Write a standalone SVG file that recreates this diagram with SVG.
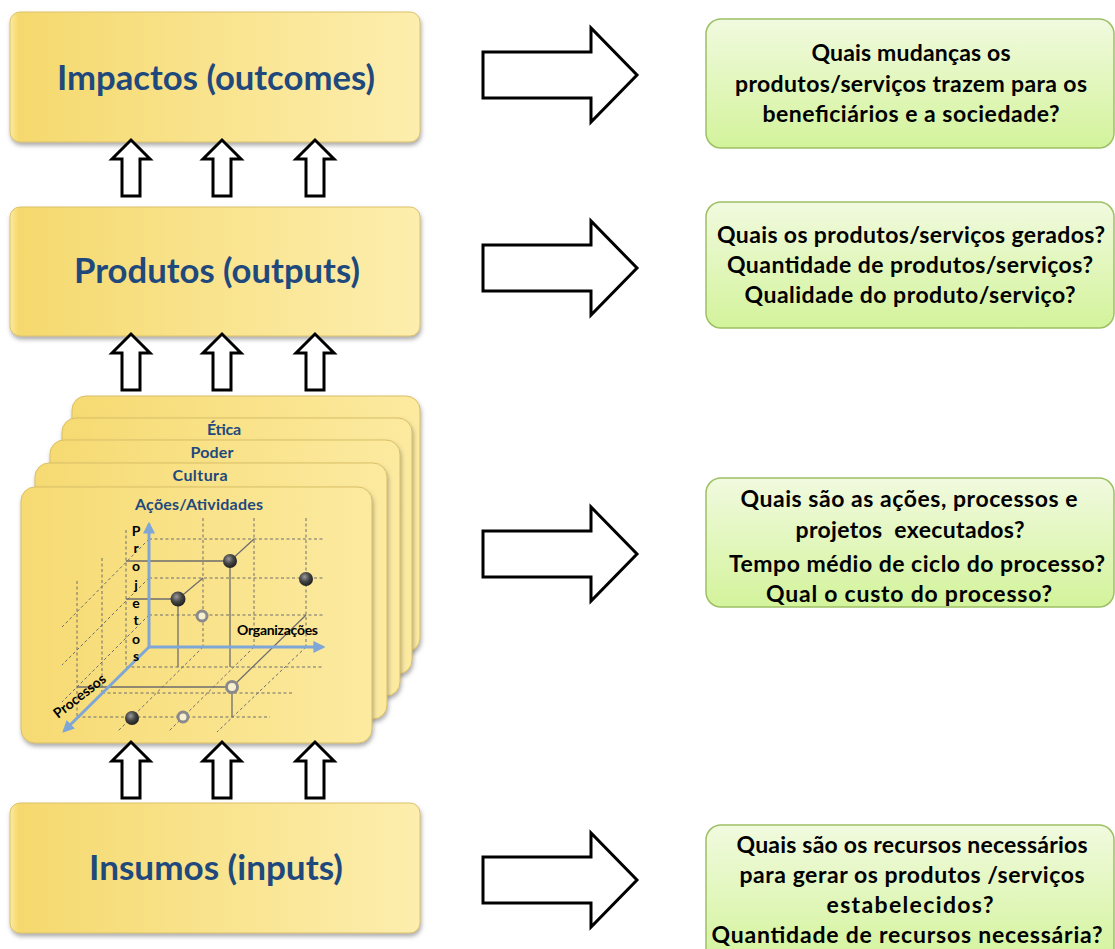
<svg xmlns="http://www.w3.org/2000/svg" width="1115" height="949" viewBox="0 0 1115 949">
<defs>
  <linearGradient id="gy" x1="0" y1="0" x2="1" y2="0">
    <stop offset="0" stop-color="#FBEBA0"/>
    <stop offset="0.02" stop-color="#F5D96E"/>
    <stop offset="1" stop-color="#FDEEAE"/>
  </linearGradient>
  <linearGradient id="gc" x1="0" y1="0" x2="1" y2="0">
    <stop offset="0" stop-color="#F6DA72"/>
    <stop offset="1" stop-color="#FCEAA0"/>
  </linearGradient>
  <linearGradient id="gg" x1="0" y1="0" x2="0" y2="1">
    <stop offset="0" stop-color="#F1FADF"/>
    <stop offset="1" stop-color="#D3F39B"/>
  </linearGradient>
  <radialGradient id="ball" cx="0.4" cy="0.35" r="0.7">
    <stop offset="0" stop-color="#9A9A9A"/>
    <stop offset="0.5" stop-color="#444"/>
    <stop offset="1" stop-color="#1A1A1A"/>
  </radialGradient>
  <filter id="sh" x="-10%" y="-10%" width="120%" height="125%">
    <feDropShadow dx="1" dy="3" stdDeviation="2" flood-color="#6b6b6b" flood-opacity="0.55"/>
  </filter>
  <marker id="ah" viewBox="0 0 10 10" refX="8" refY="5" markerWidth="4" markerHeight="4" orient="auto">
    <path d="M0,0 L10,5 L0,10 z" fill="#7EA6D6"/>
  </marker>
  <style>
    .ybox{fill:url(#gy);stroke:#DCC26A;stroke-width:1;filter:url(#sh)}
    .card{fill:url(#gc);stroke:#D9BF66;stroke-width:1;filter:url(#sh)}
    .gbox{fill:url(#gg);stroke:#9DC064;stroke-width:1.5}
    .ylab{font-family:Lato,"Liberation Sans",sans-serif;font-weight:bold;font-size:34px;fill:#1F497D;text-anchor:middle}
    .clab{font-family:Lato,"Liberation Sans",sans-serif;font-weight:bold;font-size:16px;fill:#1F497D;text-anchor:middle}
    .gtxt{font-family:Lato,"Liberation Sans",sans-serif;font-weight:bold;font-size:23px;fill:#000;text-anchor:middle}
    .ax{font-family:Lato,"Liberation Sans",sans-serif;font-weight:bold;font-size:14px;fill:#000}
    .blk{fill:#fff;stroke:#000;stroke-width:3;stroke-linejoin:miter}
    .dash{stroke:#6E6E6E;stroke-width:1;stroke-dasharray:3,2.5;fill:none}
    .sol{stroke:#6E6E6E;stroke-width:1.3;fill:none}
    .axis{stroke:#7EA6D6;stroke-width:3;fill:none}
    .ring{fill:#F7F0D0;stroke:#8A8A8A;stroke-width:3}
  </style>
</defs>

<g id="impactos">
  <rect class="ybox" x="10" y="12" width="410" height="130" rx="10"/>
  <text class="ylab" x="216" y="90" textLength="318" lengthAdjust="spacingAndGlyphs">Impactos (outcomes)</text>
</g>
<g id="produtos">
  <rect class="ybox" x="10" y="207" width="410" height="129" rx="10"/>
  <text class="ylab" x="217" y="283" textLength="286" lengthAdjust="spacingAndGlyphs">Produtos (outputs)</text>
</g>
<g id="insumos">
  <rect class="ybox" x="10" y="803" width="410" height="130" rx="10"/>
  <text class="ylab" x="216" y="880" textLength="254" lengthAdjust="spacingAndGlyphs">Insumos (inputs)</text>
</g>

<g id="processos">
  <rect class="card" x="72" y="396" width="348" height="256" rx="14"/>
  <rect class="card" x="62" y="418" width="350" height="256" rx="14"/>
  <rect class="card" x="50" y="440" width="350" height="256" rx="14"/>
  <rect class="card" x="35" y="463" width="352" height="256" rx="14"/>
  <rect class="card" x="21" y="487" width="351" height="256" rx="14"/>
  <text class="clab" x="224" y="435" textLength="34">Ética</text>
  <text class="clab" x="212" y="458" textLength="43">Poder</text>
  <text class="clab" x="200" y="481" textLength="55">Cultura</text>
  <text class="clab" x="199" y="510" textLength="128">Ações/Atividades</text>

  <g id="chart">
    <path class="dash" d="M149,539 H325 M149,578 H325 M149,615 H325 M203,518 V647 M254,518 V647 M306,518 V647"/>
    <path class="dash" d="M126,530 V667 M102,558 V693 M77,581 V717 M149,539 L62,627 M149,578 L62,665 M149,615 L62,702"/>
    <path class="dash" d="M126,667 H323 M102,693 H292 M77,717 H270 M203,647 L117,732 M254,647 L168,732 M306,647 L217,732"/>
    <path class="sol" d="M126,561 H230 V667 M230,561 L254,539 M126,599 H178 V667 M178,599 L203,578 M77,687 H232 V717 M232,687 L306,615"/>
    <line class="axis" x1="149" y1="647" x2="149" y2="524" marker-end="url(#ah)"/>
    <line class="axis" x1="149" y1="647" x2="323" y2="647" marker-end="url(#ah)"/>
    <line class="axis" x1="149" y1="647" x2="64" y2="731" marker-end="url(#ah)"/>
    <circle cx="230" cy="561" r="7" fill="url(#ball)"/>
    <circle cx="178" cy="599" r="7.5" fill="url(#ball)"/>
    <circle cx="306" cy="579" r="7" fill="url(#ball)"/>
    <circle cx="132" cy="718" r="7" fill="url(#ball)"/>
    <circle class="ring" cx="202" cy="616" r="5"/>
    <circle class="ring" cx="232" cy="687" r="5.5"/>
    <circle class="ring" cx="183" cy="717" r="5"/>
    <text class="ax" text-anchor="middle"><tspan x="136" y="536">P</tspan><tspan x="136" y="553">r</tspan><tspan x="136" y="571">o</tspan><tspan x="136" y="590">j</tspan><tspan x="136" y="608">e</tspan><tspan x="136" y="625">t</tspan><tspan x="136" y="644">o</tspan><tspan x="136" y="661">s</tspan></text>
    <text class="ax" x="237" y="635" font-size="13" textLength="81">Organizações</text>
    <text class="ax" x="0" y="0" font-size="11" transform="translate(58,719) rotate(-38)">Processos</text>
  </g>
</g>

<g id="connectors">
  <polygon class="blk" points="122,196 122,159 112,159 131,140 150,159 140,159 140,196"/>
  <polygon class="blk" points="213,196 213,159 203,159 222,140 241,159 231,159 231,196"/>
  <polygon class="blk" points="306,196 306,159 296,159 315,140 334,159 324,159 324,196"/>
  <polygon class="blk" points="122,390 122,353 112,353 131,334 150,353 140,353 140,390"/>
  <polygon class="blk" points="213,390 213,353 203,353 222,334 241,353 231,353 231,390"/>
  <polygon class="blk" points="306,390 306,353 296,353 315,334 334,353 324,353 324,390"/>
  <polygon class="blk" points="122,798 122,761 112,761 131,742 150,761 140,761 140,798"/>
  <polygon class="blk" points="213,798 213,761 203,761 222,742 241,761 231,761 231,798"/>
  <polygon class="blk" points="306,798 306,761 296,761 315,742 334,761 324,761 324,798"/>
  <polygon class="blk" points="483,52 591,52 591,28 637,75 591,122 591,98 483,98"/>
  <polygon class="blk" points="483,245 591,245 591,221 637,268 591,315 591,291 483,291"/>
  <polygon class="blk" points="483,531 591,531 591,507 637,554 591,601 591,577 483,577"/>
  <polygon class="blk" points="483,857 591,857 591,833 637,880 591,927 591,903 483,903"/>
</g>

<g id="q-impactos">
  <rect class="gbox" x="706" y="19" width="408" height="129" rx="15"/>
  <text class="gtxt" x="911" y="61" textLength="199">Quais mudanças os</text>
  <text class="gtxt" x="911" y="92" textLength="352">produtos/serviços trazem para os</text>
  <text class="gtxt" x="911" y="122" textLength="297">beneficiários e a sociedade?</text>
</g>
<g id="q-produtos">
  <rect class="gbox" x="706" y="202" width="408" height="126" rx="15"/>
  <text class="gtxt" x="911" y="243" textLength="388">Quais os produtos/serviços gerados?</text>
  <text class="gtxt" x="910" y="273" textLength="366">Quantidade de produtos/serviços?</text>
  <text class="gtxt" x="910" y="303" textLength="331">Qualidade do produto/serviço?</text>
</g>
<g id="q-processos">
  <rect class="gbox" x="706" y="478" width="408" height="129" rx="15"/>
  <text class="gtxt" x="909" y="507" textLength="337">Quais são as ações, processos e</text>
  <text class="gtxt" x="910" y="538" textLength="229" xml:space="preserve">projetos  executados?</text>
  <text class="gtxt" x="917" y="572" textLength="376">Tempo médio de ciclo do processo?</text>
  <text class="gtxt" x="909" y="602" textLength="286">Qual o custo do processo?</text>
</g>
<g id="q-insumos">
  <rect class="gbox" x="706" y="825" width="408" height="140" rx="15"/>
  <text class="gtxt" x="912" y="853" textLength="351">Quais são os recursos necessários</text>
  <text class="gtxt" x="912" y="883" textLength="345">para gerar os produtos /serviços</text>
  <text class="gtxt" x="910" y="913" textLength="167">estabelecidos?</text>
  <text class="gtxt" x="907" y="943" textLength="391">Quantidade de recursos necessária?</text>
</g>
</svg>
